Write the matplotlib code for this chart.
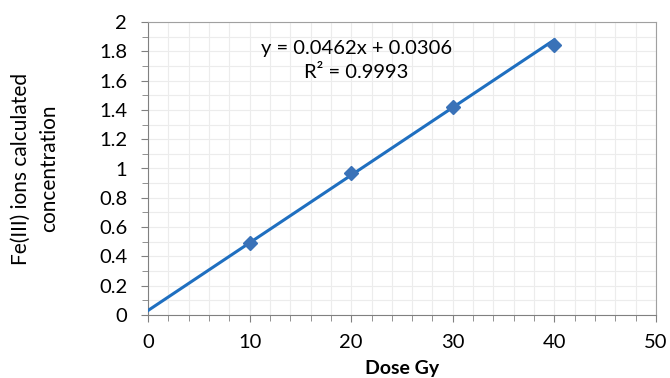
import matplotlib.pyplot as plt
from matplotlib.ticker import MultipleLocator

# data
dose = [10, 20, 30, 40]
conc = [0.49, 0.97, 1.42, 1.84]
slope = 0.0462
intercept = 0.0306
r2 = 0.9993
fit_range = [0, 40]

plt.rcParams["font.family"] = ["Lato", "DejaVu Sans"]

fig = plt.figure(figsize=(6.7, 3.78), dpi=100)
ax = fig.add_axes([148 / 670, 1 - 315 / 378, 508 / 670, 293 / 378])

fit_y = [slope * x + intercept for x in fit_range]
ax.plot(fit_range, fit_y, color="#1f6fc0", lw=2.2, zorder=3)
ax.plot(dose, conc, "D", color="#3a72b8", ms=7, zorder=4)

ax.set_xlim(0, 50)
ax.set_ylim(0, 2)
ax.xaxis.set_major_locator(MultipleLocator(10))
ax.xaxis.set_minor_locator(MultipleLocator(2))
ax.yaxis.set_major_locator(MultipleLocator(0.2))
ax.yaxis.set_minor_locator(MultipleLocator(0.1))
ax.set_yticklabels([f"{v:g}" for v in ax.get_yticks()])

ax.grid(which="both", color="#ececec", lw=0.8)
ax.set_axisbelow(True)
for side in ["top", "right"]:
    ax.spines[side].set_color("#a0a0a0")
for side in ["left", "bottom"]:
    ax.spines[side].set_color("#808080")
ax.tick_params(which="major", direction="out", length=5, color="#808080",
               labelsize=14.5, pad=9)
ax.tick_params(which="minor", direction="out", length=4, color="#808080")
ax.tick_params(axis="y", which="major", pad=10)

ax.set_xlabel("Dose Gy", fontsize=14, fontweight="bold", labelpad=6)
ax.set_ylabel("Fe(III) ions calculated\nconcentration", fontsize=15,
              linespacing=1.5, labelpad=29)

ax.text(0.41, 0.94, f"y = {slope}x + {intercept}\nR² = {r2}",
        transform=ax.transAxes, ha="center", va="top", fontsize=14.5,
        multialignment="center", linespacing=1.5)

fig.savefig("out.png", dpi=100)
